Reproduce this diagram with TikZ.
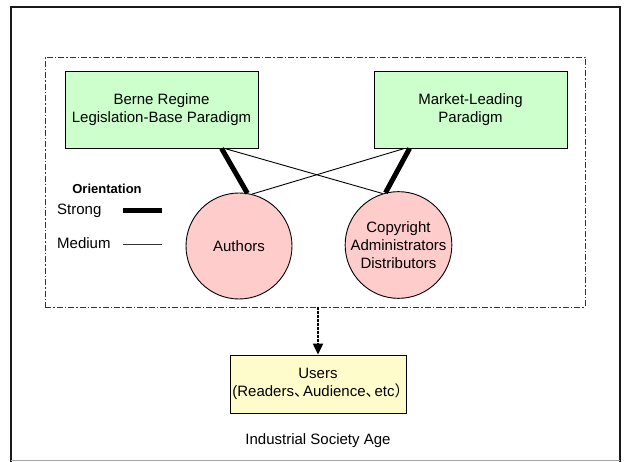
\documentclass[tikz,border=0pt]{standalone}
\usepackage{fontspec}
\setmainfont{Liberation Sans}
\newfontfamily\cjk{Noto Sans CJK SC}
\usetikzlibrary{arrows.meta}
\tikzset{
  txt/.style={font=\fontsize{15}{18}\selectfont, align=center, inner sep=0pt},
  paradigm/.style={txt, draw=black, line width=0.9pt, fill=green!20, minimum width=193pt, minimum height=77pt},
  actor/.style={txt, circle, draw=black, line width=0.9pt, fill=red!20, minimum size=106pt},
  userbox/.style={txt, draw=black, line width=0.9pt, fill=yellow!20, minimum width=176pt, minimum height=58pt},
  strongline/.style={line width=5pt},
  mediumline/.style={line width=0.9pt},
  region/.style={draw=black!80, line width=0.8pt, dash pattern=on 6pt off 2pt on 1.5pt off 2pt, minimum width=540pt, minimum height=250pt, inner sep=0pt},
}
\newcommand{\cjkc}[1]{\makebox[9pt][l]{\cjk #1}}
\begin{document}
\begin{tikzpicture}[x=1pt,y=-1pt]
\useasboundingbox (0,0) rectangle (624,462);
% outer frame
\draw[line width=2.2pt, black!90] (11,470) -- (11,7) -- (620,7) -- (620,470);
\draw[line width=1pt, black!35] (11,460.5) -- (620,460.5);
% dashed region
\node[region] (area) at (315,182) {};
% paradigms
\node[paradigm] (berne) at (161.5,109.5) {Berne Regime\\Legislation-Base Paradigm};
\node[paradigm] (market) at (470.5,109.5) {Market-Leading\\Paradigm};
% actors
\node[actor] (authors) at (239,246) {Authors};
\node[actor] (copy) at (398.5,245) {Copyright\\Administrators\\Distributors};
% connectors
\draw[strongline] ([xshift=157pt]berne.south west) -- (authors.81);
\draw[mediumline] ([xshift=160pt]berne.south west) -- (copy.107);
\draw[strongline] ([xshift=36pt]market.south west) -- (copy.104);
\draw[mediumline] ([xshift=31pt]market.south west) -- (authors.76);
% legend
\node[txt, font=\fontsize{13}{15}\selectfont\bfseries] (orient) at (107,189) {Orientation};
\node[txt, anchor=west] (strong) at (57,211) {Strong};
\node[txt, anchor=west] (medium) at (57,243) {Medium};
\coordinate (s1) at (123,211);
\coordinate (s2) at (162,211);
\coordinate (m1) at (123,244);
\coordinate (m2) at (162,244);
\draw[strongline] (s1) -- (s2);
\draw[mediumline, black!80] (m1) -- (m2);
% users
\node[userbox] (users) at (318,384) {Users\\(Readers\cjkc{、}Audience\cjkc{、}etc\cjkc{）}};
\draw[line width=2.2pt, dash pattern=on 2.2pt off 1.8pt, -{Triangle[width=10pt,length=11pt]}] (users.north |- area.south) -- (users.north);
\node[txt] (age) at (318,441) {Industrial Society Age};
\end{tikzpicture}
\end{document}
